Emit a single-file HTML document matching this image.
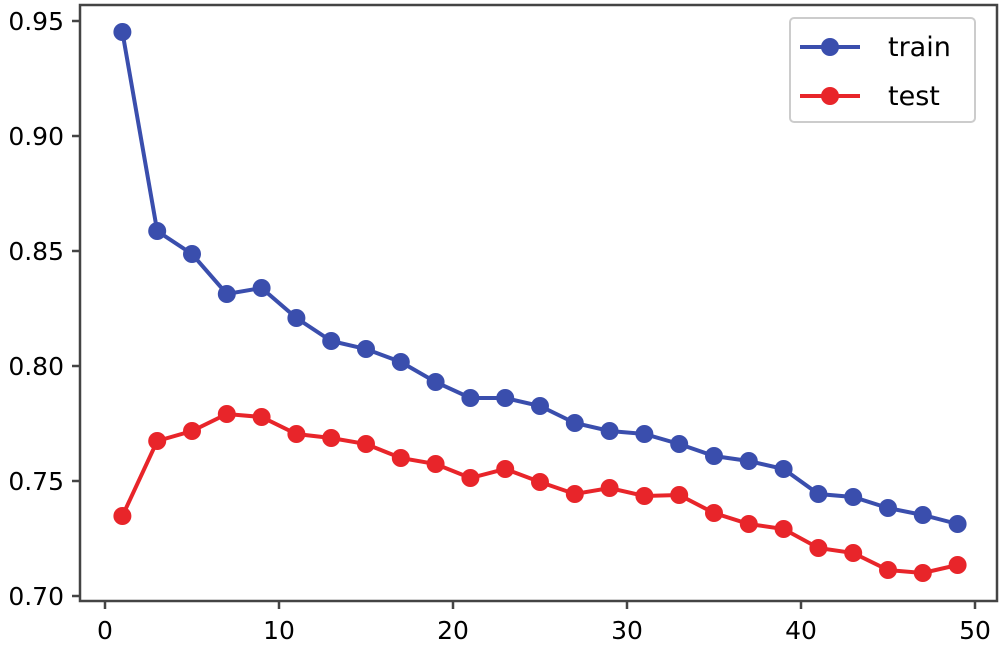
<!DOCTYPE html><html><head><style>body{margin:0;background:#fff}svg{display:block}text{font-family:"DejaVu Sans","Liberation Sans",sans-serif;fill:#000}</style></head><body>
<svg width="1001" height="648" viewBox="0 0 1001 648">
<rect x="80" y="5" width="917" height="596" fill="#fff" stroke="#444" stroke-width="2.5"/>
<g stroke="#444" stroke-width="2.5">
<line x1="72" y1="21" x2="80" y2="21"/><line x1="72" y1="136" x2="80" y2="136"/><line x1="72" y1="251" x2="80" y2="251"/><line x1="72" y1="366" x2="80" y2="366"/><line x1="72" y1="481" x2="80" y2="481"/><line x1="72" y1="596" x2="80" y2="596"/>
<line x1="105" y1="601" x2="105" y2="609"/><line x1="279" y1="601" x2="279" y2="609"/><line x1="453" y1="601" x2="453" y2="609"/><line x1="627" y1="601" x2="627" y2="609"/><line x1="801" y1="601" x2="801" y2="609"/><line x1="975" y1="601" x2="975" y2="609"/>
</g>
<g font-size="25" text-anchor="end">
<text x="64" y="30">0.95</text><text x="64" y="145">0.90</text><text x="64" y="260">0.85</text><text x="64" y="375">0.80</text><text x="64" y="490">0.75</text><text x="64" y="605">0.70</text></g>
<g font-size="25" text-anchor="middle">
<text x="105" y="639">0</text><text x="279" y="639">10</text><text x="453" y="639">20</text><text x="627" y="639">30</text><text x="801" y="639">40</text><text x="975" y="639">50</text></g>
<g fill="#3a4ead">
<polyline fill="none" stroke="#3a4ead" stroke-width="4" points="122.4,32 157.2,231 192,254 226.8,294 261.6,288 296.4,318 331.2,341 366,349 400.8,362 435.6,382 470.4,398 505.2,398 540,406 574.8,423 609.6,431 644.4,434 679.2,444 714,456 748.8,461 783.6,469 818.4,494 853.2,497 888,508 922.8,515 957.6,524"/>
<circle cx="122.4" cy="32" r="9"/><circle cx="157.2" cy="231" r="9"/><circle cx="192" cy="254" r="9"/><circle cx="226.8" cy="294" r="9"/><circle cx="261.6" cy="288" r="9"/><circle cx="296.4" cy="318" r="9"/><circle cx="331.2" cy="341" r="9"/><circle cx="366" cy="349" r="9"/><circle cx="400.8" cy="362" r="9"/><circle cx="435.6" cy="382" r="9"/><circle cx="470.4" cy="398" r="9"/><circle cx="505.2" cy="398" r="9"/><circle cx="540" cy="406" r="9"/><circle cx="574.8" cy="423" r="9"/><circle cx="609.6" cy="431" r="9"/><circle cx="644.4" cy="434" r="9"/><circle cx="679.2" cy="444" r="9"/><circle cx="714" cy="456" r="9"/><circle cx="748.8" cy="461" r="9"/><circle cx="783.6" cy="469" r="9"/><circle cx="818.4" cy="494" r="9"/><circle cx="853.2" cy="497" r="9"/><circle cx="888" cy="508" r="9"/><circle cx="922.8" cy="515" r="9"/><circle cx="957.6" cy="524" r="9"/>
</g>
<g fill="#e8252a">
<polyline fill="none" stroke="#e8252a" stroke-width="4" points="122.4,516 157.2,441 192,431 226.8,414 261.6,417 296.4,434 331.2,438 366,444 400.8,458 435.6,464 470.4,478 505.2,469 540,482 574.8,494 609.6,488 644.4,496 679.2,495 714,513 748.8,524 783.6,529 818.4,548 853.2,553 888,570 922.8,573 957.6,565"/>
<circle cx="122.4" cy="516" r="9"/><circle cx="157.2" cy="441" r="9"/><circle cx="192" cy="431" r="9"/><circle cx="226.8" cy="414" r="9"/><circle cx="261.6" cy="417" r="9"/><circle cx="296.4" cy="434" r="9"/><circle cx="331.2" cy="438" r="9"/><circle cx="366" cy="444" r="9"/><circle cx="400.8" cy="458" r="9"/><circle cx="435.6" cy="464" r="9"/><circle cx="470.4" cy="478" r="9"/><circle cx="505.2" cy="469" r="9"/><circle cx="540" cy="482" r="9"/><circle cx="574.8" cy="494" r="9"/><circle cx="609.6" cy="488" r="9"/><circle cx="644.4" cy="496" r="9"/><circle cx="679.2" cy="495" r="9"/><circle cx="714" cy="513" r="9"/><circle cx="748.8" cy="524" r="9"/><circle cx="783.6" cy="529" r="9"/><circle cx="818.4" cy="548" r="9"/><circle cx="853.2" cy="553" r="9"/><circle cx="888" cy="570" r="9"/><circle cx="922.8" cy="573" r="9"/><circle cx="957.6" cy="565" r="9"/>
</g>
<rect x="790" y="18" width="185" height="104" rx="4" fill="#fff" stroke="#ccc" stroke-width="2"/>
<line x1="800" y1="47" x2="860" y2="47" stroke="#3a4ead" stroke-width="4"/><circle cx="830" cy="47" r="9" fill="#3a4ead"/>
<line x1="800" y1="96" x2="860" y2="96" stroke="#e8252a" stroke-width="4"/><circle cx="830" cy="96" r="9" fill="#e8252a"/>
<text x="888" y="56" font-size="27">train</text><text x="888" y="105" font-size="27">test</text>
</svg></body></html>
